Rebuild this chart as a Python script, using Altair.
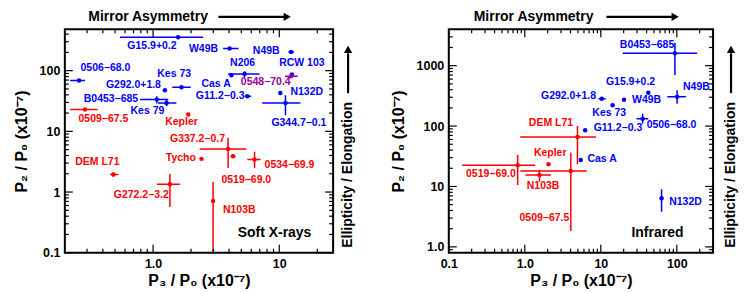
import math
import altair as alt
import pandas as pd

FONT = "Liberation Sans"
BLUE, RED, PURPLE = "#0000ff", "#ff0000", "#990099"
GROUPS = ["cc", "ia", "un"]
GROUP_COLORS = [BLUE, RED, PURPLE]

# ---------------- Soft X-rays (left panel) ----------------
sx_name = ["G15.9+0.2", "W49B", "N49B", "0506\u221268.0", "N206", "Cas A", "RCW 103",
           "0548\u221270.4", "G292.0+1.8", "Kes 73", "G11.2\u22120.3", "N132D", "G344.7\u22120.1",
           "B0453\u2212685", "Kes 79", "0509\u221267.5", "Kepler", "G337.2\u22120.7", "Tycho",
           "0519\u221269.0", "0534\u221269.9", "DEM L71", "G272.2\u22123.2", "N103B"]
sx_grp = ["cc", "cc", "cc", "cc", "cc", "cc", "cc", "un", "cc", "cc", "cc", "cc", "cc",
          "cc", "cc", "ia", "ia", "ia", "ia", "ia", "ia", "ia", "ia", "ia"]
sx_x = [1.58, 4.04, 12.4, 0.259, 5.31, 4.17, 12.6, 12.4, 1.68, 1.24, 5.58, 10.2, 11.2,
        1.07, 1.28, 0.289, 1.90, 3.93, 2.42, 4.30, 6.37, 0.485, 1.36, 2.99]
sx_xlo = [0.547, 3.59, 11.8, 0.220, 3.93, 4.17, 12.6, 11.1, 1.42, 1.24, 5.31, 10.2, 7.33,
          0.787, 1.09, 0.220, 1.90, 2.34, 2.42, 4.12, 5.58, 0.456, 1.07, 2.99]
sx_xhi = [2.49, 4.76, 13.1, 0.289, 6.98, 4.17, 12.6, 14.0, 1.99, 1.24, 6.00, 10.2, 14.7,
          1.32, 1.53, 0.364, 1.90, 5.48, 2.42, 4.48, 7.11, 0.531, 1.63, 2.99]
sx_y = [354, 231, 203, 68.7, 88.3, 84.0, 86.3, 80.9, 53.3, 47.5, 37.9, 43.0, 29.4,
        33.4, 29.4, 22.9, 18.9, 5.14, 3.52, 3.90, 3.44, 1.95, 1.34, 0.71]
sx_ylo = [354, 231, 203, 68.7, 78.7, 84.0, 86.3, 75.8, 53.3, 47.5, 37.9, 43.0, 18.5,
          29.0, 25.9, 22.9, 18.9, 2.50, 3.52, 3.65, 2.50, 1.80, 0.565, 0.10]
sx_yhi = [354, 231, 203, 68.7, 97.7, 84.0, 86.3, 89.5, 53.3, 47.5, 37.9, 43.0, 39.4,
          37.9, 33.2, 22.9, 18.9, 7.80, 3.52, 4.15, 4.59, 2.10, 2.00, 1.47]
sx_lab_x = [0.98, 2.51, 7.88, 0.419, 5.12, 3.16, 15.1, 7.81, 0.699, 1.47, 3.40, 16.5, 14.3,
            0.464, 0.902, 0.404, 1.68, 2.25, 1.66, 5.48, 12.05, 0.362, 0.807, 4.82]
sx_lab_y = [252, 231, 208, 111, 134, 60.4, 134, 64.4, 59.0, 88.3, 37.9, 44.1, 13.8,
            34.2, 21.5, 15.7, 14.3, 7.52, 3.66, 1.55, 2.77, 3.14, 0.89, 0.499]
sx_xdomain = [0.2, 26.7]
sx_ydomain = [0.1, 480]
sx_xtick_major = [1, 10]
sx_xtick_text = ["1.0", "10"]
sx_xtick_minor = [0.3, 0.4, 0.5, 0.6, 0.7, 0.8, 0.9, 2, 3, 4, 5, 6, 7, 8, 9, 20]
sx_ytick_major = [0.1, 1, 10, 100]
sx_ytick_text = ["0.1", "1", "10", "100"]
sx_ytick_minor = [0.2, 0.3, 0.4, 0.5, 0.6, 0.7, 0.8, 0.9, 2, 3, 4, 5, 6, 7, 8, 9,
                  20, 30, 40, 50, 60, 70, 80, 90, 200, 300, 400]
sx_tag = "Soft X-rays"
sx_tag_x, sx_tag_y = 9.17, 0.213

# ---------------- Infrared (right panel) ----------------
ir_name = ["B0453\u2212685", "G15.9+0.2", "N49B", "G292.0+1.8", "W49B", "Kes 73",
           "0506\u221268.0", "G11.2\u22120.3", "DEM L71", "Cas A", "Kepler", "0519\u221269.0",
           "N103B", "0509\u221267.5", "N132D"]
ir_grp = ["cc", "cc", "cc", "cc", "cc", "cc", "cc", "cc", "ia", "cc", "ia", "ia", "ia", "ia", "cc"]
ir_x = [94.4, 42.2, 101, 10.3, 20.2, 14.3, 35.5, 6.22, 4.93, 5.45, 2.05, 0.806, 1.56, 4.03, 63.0]
ir_xlo = [19.4, 42.2, 74.8, 9.31, 20.2, 14.3, 29.6, 6.22, 0.873, 5.45, 1.95, 0.150, 1.02, 0.873, 60.0]
ir_xhi = [185, 42.2, 131.5, 11.6, 20.2, 14.3, 42.2, 6.22, 8.66, 5.45, 2.15, 1.37, 2.20, 6.53, 66.0]
ir_y = [1600, 357, 306, 284, 273, 221, 132, 85.0, 65.9, 27.4, 23.3, 22.4, 15.5, 18.0, 6.37]
ir_ylo = [700, 357, 234, 284, 273, 221, 109, 85.0, 23.3, 27.4, 22.0, 10.6, 12.0, 1.83, 3.82]
ir_yhi = [2400, 357, 391, 284, 273, 221, 160, 85.0, 100, 27.4, 24.6, 33.2, 18.5, 36.2, 8.97]
ir_lab_x = [40.6, 24.6, 181, 3.76, 40.0, 12.9, 85.2, 16.8, 2.21, 10.4, 2.16, 0.358, 1.74, 1.81, 130]
ir_lab_y = [2170, 542, 443, 314, 270, 163, 104, 91.8, 114, 28.1, 36.2, 15.9, 10.2, 2.97, 5.59]
ir_xdomain = [0.1, 300]
ir_ydomain = [0.8, 4000]
ir_xtick_major = [0.1, 1, 10, 100]
ir_xtick_text = ["0.1", "1.0", "10", "100"]
ir_xtick_minor = [0.2, 0.3, 0.4, 0.5, 0.6, 0.7, 0.8, 0.9, 2, 3, 4, 5, 6, 7, 8, 9,
                  20, 30, 40, 50, 60, 70, 80, 90, 200]
ir_ytick_major = [1, 10, 100, 1000]
ir_ytick_text = ["1.0", "10", "100", "1000"]
ir_ytick_minor = [0.9, 2, 3, 4, 5, 6, 7, 8, 9, 20, 30, 40, 50, 60, 70, 80, 90,
                  200, 300, 400, 500, 600, 700, 800, 900, 2000, 3000]
ir_tag = "Infrared"
ir_tag_x, ir_tag_y = 55.6, 1.71

X_TITLE = "P\u2083 / P\u2080 (x10\u207b\u2077)"
Y_TITLE = "P\u2082 / P\u2080 (x10\u207b\u2077)"
TOP_TEXT = "Mirror Asymmetry"
SIDE_TEXT = "Ellipticity / Elongation"

H = 224
MAJOR, MINOR = 8, 4
TOP_Y = -12.5


def label_expr(vals, texts):
    expr = "''"
    for v, t in zip(reversed(vals), reversed(texts)):
        expr = f"abs(log(datum.value)/LN10 - ({math.log10(v):.5f})) < 0.01 ? '{t}' : " + expr
    return expr


def make_axis(vals, texts, title, orient):
    return alt.Axis(values=vals, labelExpr=label_expr(vals, texts), ticks=False, tickSize=0,
                    domain=False, grid=False, labelPadding=5, labelFont=FONT,
                    labelFontSize=12.5, labelFontWeight="bold", labelColor="black",
                    labelOverlap=False, labelFlush=False, title=title, titleFont=FONT,
                    titleFontSize=16, titleFontWeight="bold", titleColor="black",
                    titlePadding=(2 if orient == "bottom" else 10), orient=orient)


def panel(name, grp, x, xlo, xhi, y, ylo, yhi, lx, ly, xdom, ydom,
          xmaj, xtxt, xmin, ymaj, ytxt, ymin, tag, tagx, tagy, W, deco):
    df = pd.DataFrame({"name": name, "grp": grp, "x": x, "xlo": xlo, "xhi": xhi,
                       "y": y, "ylo": ylo, "yhi": yhi, "lx": lx, "ly": ly})
    xs = alt.Scale(type="log", domain=xdom, nice=False, zero=False)
    ys = alt.Scale(type="log", domain=ydom, nice=False, zero=False)
    xax = make_axis(xmaj, xtxt, X_TITLE, "bottom")
    yax = make_axis(ymaj, ytxt, Y_TITLE, "left")
    color = alt.Color("grp:N", scale=alt.Scale(domain=GROUPS, range=GROUP_COLORS), legend=None)

    def X(f):
        return alt.X(f"{f}:Q", scale=xs, axis=xax)

    def Y(f):
        return alt.Y(f"{f}:Q", scale=ys, axis=yax)

    base = alt.Chart(df)
    hbar = base.mark_rule(strokeWidth=1.5, clip=True).encode(x=X("xlo"), x2="xhi", y=Y("y"), color=color)
    vbar = base.mark_rule(strokeWidth=1.5, clip=True).encode(x=X("x"), y=Y("ylo"), y2="yhi", color=color)
    pts = base.mark_circle(size=20, opacity=1).encode(x=X("x"), y=Y("y"), color=color)
    labs = base.mark_text(font=FONT, fontSize=10.5, fontWeight="bold", align="center",
                          baseline="middle").encode(x=X("lx"), y=Y("ly"), text="name:N", color=color)
    tagdf = pd.DataFrame({"t": [tag], "tx": [tagx], "ty": [tagy]})
    tagm = alt.Chart(tagdf).mark_text(font=FONT, fontSize=14, fontWeight="bold", color="black",
                                      align="center", baseline="middle").encode(
        x=X("tx"), y=Y("ty"), text="t:N")

    ticks = []
    for vals, ln in ((xmaj, MAJOR), (xmin, MINOR)):
        tdf = alt.Chart(pd.DataFrame({"t": vals}))
        ticks.append(tdf.mark_rule(color="black", strokeWidth=1.2).encode(
            x=X("t"), y=alt.value(H), y2=alt.value(H - ln)))
        ticks.append(tdf.mark_rule(color="black", strokeWidth=1.2).encode(
            x=X("t"), y=alt.value(0), y2=alt.value(ln)))
    for vals, ln in ((ymaj, MAJOR), (ymin, MINOR)):
        tdf = alt.Chart(pd.DataFrame({"t": vals}))
        ticks.append(tdf.mark_rule(color="black", strokeWidth=1.2).encode(
            y=Y("t"), x=alt.value(0), x2=alt.value(ln)))
        ticks.append(tdf.mark_rule(color="black", strokeWidth=1.2).encode(
            y=Y("t"), x=alt.value(W), x2=alt.value(W - ln)))

    one = alt.Chart(pd.DataFrame({"k": [0]}))
    tx, ax0, ax1, sx = deco
    top_t = one.mark_text(text=TOP_TEXT, font=FONT, fontSize=14, fontWeight="bold", color="black",
                          align="center", baseline="middle").encode(x=alt.value(tx), y=alt.value(TOP_Y))
    top_r = one.mark_rule(color="black", strokeWidth=2.2).encode(
        x=alt.value(ax0), x2=alt.value(ax1), y=alt.value(TOP_Y))
    top_h = one.mark_point(shape="triangle-right", filled=True, size=70, color="black",
                           opacity=1).encode(x=alt.value(ax1 + 2), y=alt.value(TOP_Y))
    side_t = one.mark_text(text=SIDE_TEXT, font=FONT, fontSize=14, fontWeight="bold", color="black",
                           align="center", baseline="middle", angle=270).encode(
        x=alt.value(sx), y=alt.value(146))
    side_r = one.mark_rule(color="black", strokeWidth=2.2).encode(
        x=alt.value(sx), y=alt.value(64), y2=alt.value(24))
    side_h = one.mark_point(shape="triangle-up", filled=True, size=70, color="black",
                            opacity=1).encode(x=alt.value(sx), y=alt.value(20))

    layers = [hbar, vbar, pts, labs, tagm] + ticks + [top_t, top_r, top_h, side_t, side_r, side_h]
    return alt.layer(*layers).properties(width=W, height=H)


left = panel(sx_name, sx_grp, sx_x, sx_xlo, sx_xhi, sx_y, sx_ylo, sx_yhi, sx_lab_x, sx_lab_y,
             sx_xdomain, sx_ydomain, sx_xtick_major, sx_xtick_text, sx_xtick_minor,
             sx_ytick_major, sx_ytick_text, sx_ytick_minor, sx_tag, sx_tag_x, sx_tag_y,
             269, (83.5, 154, 221, 284))
right = panel(ir_name, ir_grp, ir_x, ir_xlo, ir_xhi, ir_y, ir_ylo, ir_yhi, ir_lab_x, ir_lab_y,
              ir_xdomain, ir_ydomain, ir_xtick_major, ir_xtick_text, ir_xtick_minor,
              ir_ytick_major, ir_ytick_text, ir_ytick_minor, ir_tag, ir_tag_x, ir_tag_y,
              265, (85, 158, 225, 283))

chart = alt.hconcat(left, right, spacing=33).configure_view(
    stroke="black", strokeWidth=2).properties(
    background="white", padding={"left": 4, "top": 0, "right": 0, "bottom": 0})

chart.save("out.html", embed_options={"renderer": "svg", "actions": False})
